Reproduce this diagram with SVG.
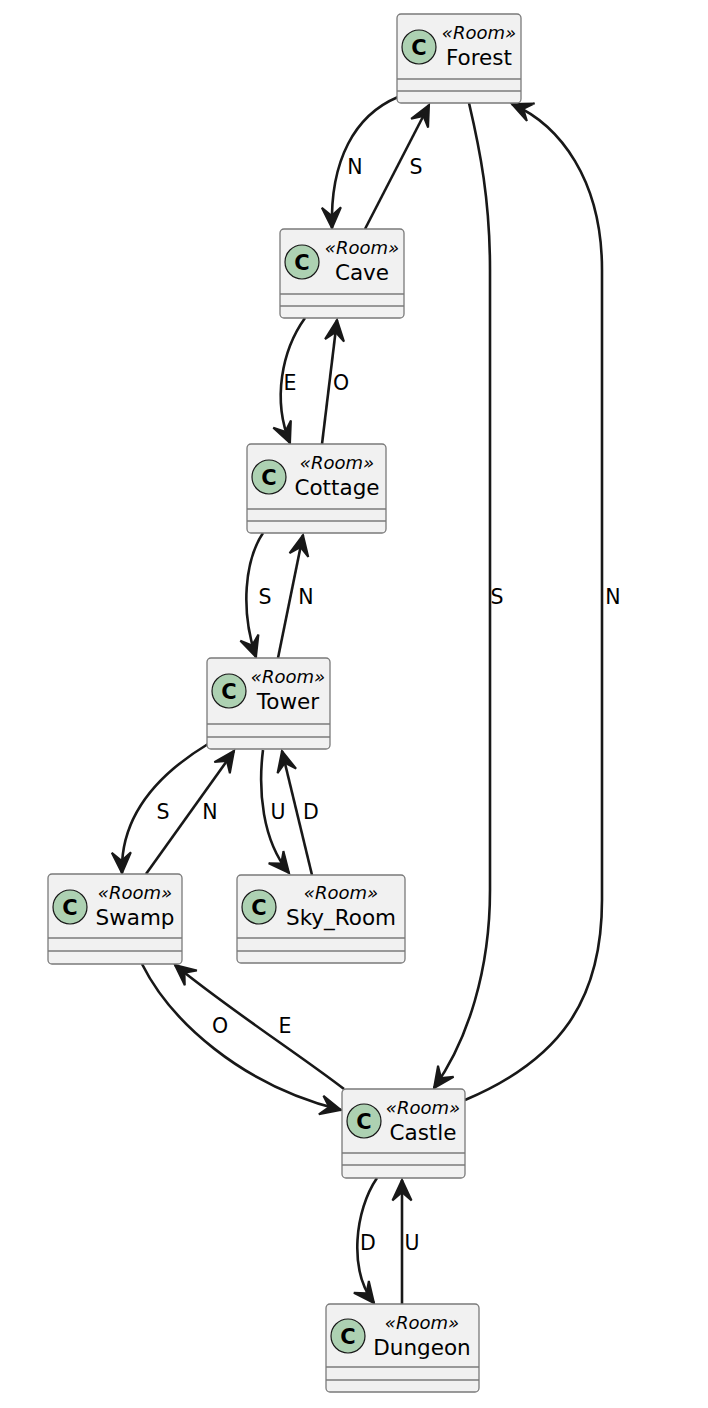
<svg xmlns="http://www.w3.org/2000/svg" width="708" height="1408" viewBox="0 0 708 1408">
<defs>
<style>
.box{fill:#F1F1F1;stroke:#7a7a7a;stroke-width:1.3}
.sep{stroke:#7a7a7a;stroke-width:1.3}
.circ{fill:#ADD1B2;stroke:#181818;stroke-width:1.2}
.cl{font-family:"DejaVu Sans",sans-serif;font-weight:bold;font-size:21px;fill:#000;text-anchor:middle}
.st{font-family:"DejaVu Sans",sans-serif;font-style:italic;font-size:18px;fill:#000;text-anchor:middle}
.nm{font-family:"DejaVu Sans",sans-serif;font-size:21.5px;fill:#000;text-anchor:middle}
.e{fill:none;stroke:#181818;stroke-width:2.6;marker-end:url(#ah)}
.lb{font-family:"DejaVu Sans",sans-serif;font-size:20.5px;fill:#000;text-anchor:middle}
</style>
<marker id="ah" markerUnits="userSpaceOnUse" markerWidth="30" markerHeight="30" refX="0" refY="0" viewBox="-20 -10 22 20" orient="auto" overflow="visible">
<path d="M0,0 L-15,-7 L-9,0 L-15,7 Z" fill="#181818" stroke="#181818" stroke-width="1.5" stroke-linejoin="miter"/>
</marker>
</defs>
<rect width="708" height="1408" fill="#ffffff"/>
<g id="connectors">
<path class="e" d="M398,97 C355,115 330,160 332,228"/>
<path class="e" d="M365,229 L429,105"/>
<path class="e" d="M305,318 C282,350 272,400 290,443"/>
<path class="e" d="M322,444 L337,320"/>
<path class="e" d="M263,533 C245,560 240,610 256,657"/>
<path class="e" d="M278,658 L303,535"/>
<path class="e" d="M208,744 C165,770 120,810 122,873"/>
<path class="e" d="M146,874 L234,751"/>
<path class="e" d="M263,750 C258,790 262,840 289,873"/>
<path class="e" d="M312,875 L282,751"/>
<path class="e" d="M142,964 C170,1020 240,1085 341,1110"/>
<path class="e" d="M344,1089 C300,1055 230,1010 175,965"/>
<path class="e" d="M469,103 C480,150 490,200 490,270 L490,890 C490,970 468,1040 434,1088"/>
<path class="e" d="M465,1100 C560,1060 602,1000 602,900 L602,270 C602,180 560,125 512,104"/>
<path class="e" d="M377,1178 C355,1210 348,1270 374,1303"/>
<path class="e" d="M402,1304 L402,1180"/>
<text class="lb" x="355" y="174">N</text>
<text class="lb" x="416" y="174">S</text>
<text class="lb" x="290" y="390">E</text>
<text class="lb" x="341" y="390">O</text>
<text class="lb" x="265" y="604">S</text>
<text class="lb" x="306" y="604">N</text>
<text class="lb" x="163" y="819">S</text>
<text class="lb" x="210" y="819">N</text>
<text class="lb" x="278" y="819">U</text>
<text class="lb" x="311" y="819">D</text>
<text class="lb" x="220" y="1033">O</text>
<text class="lb" x="285" y="1033">E</text>
<text class="lb" x="497" y="604">S</text>
<text class="lb" x="613" y="604">N</text>
<text class="lb" x="368" y="1250">D</text>
<text class="lb" x="412" y="1250">U</text>
</g>
<g id="Forest">
<rect class="box" x="397" y="14" width="124" height="89" rx="4"/>
<line class="sep" x1="397" y1="79" x2="521" y2="79"/>
<line class="sep" x1="397" y1="91" x2="521" y2="91"/>
<circle class="circ" cx="419" cy="47" r="17"/>
<text class="cl" x="419" y="54.5">C</text>
<text class="st" x="479" y="39">«Room»</text>
<text class="nm" x="479" y="65">Forest</text>
</g>
<g id="Cave">
<rect class="box" x="280" y="229" width="124" height="89" rx="4"/>
<line class="sep" x1="280" y1="294" x2="404" y2="294"/>
<line class="sep" x1="280" y1="306" x2="404" y2="306"/>
<circle class="circ" cx="302" cy="262" r="17"/>
<text class="cl" x="302" y="269.5">C</text>
<text class="st" x="362" y="254">«Room»</text>
<text class="nm" x="362" y="280">Cave</text>
</g>
<g id="Cottage">
<rect class="box" x="247" y="444" width="139" height="89" rx="4"/>
<line class="sep" x1="247" y1="509" x2="386" y2="509"/>
<line class="sep" x1="247" y1="521" x2="386" y2="521"/>
<circle class="circ" cx="269" cy="477" r="17"/>
<text class="cl" x="269" y="484.5">C</text>
<text class="st" x="337" y="469">«Room»</text>
<text class="nm" x="337" y="495">Cottage</text>
</g>
<g id="Tower">
<rect class="box" x="207" y="658" width="123" height="91" rx="4"/>
<line class="sep" x1="207" y1="724" x2="330" y2="724"/>
<line class="sep" x1="207" y1="737" x2="330" y2="737"/>
<circle class="circ" cx="229" cy="691" r="17"/>
<text class="cl" x="229" y="698.5">C</text>
<text class="st" x="288" y="683">«Room»</text>
<text class="nm" x="288" y="709">Tower</text>
</g>
<g id="Swamp">
<rect class="box" x="48" y="874" width="134" height="90" rx="4"/>
<line class="sep" x1="48" y1="938" x2="182" y2="938"/>
<line class="sep" x1="48" y1="951" x2="182" y2="951"/>
<circle class="circ" cx="70" cy="907" r="17"/>
<text class="cl" x="70" y="914.5">C</text>
<text class="st" x="135" y="899">«Room»</text>
<text class="nm" x="135" y="925">Swamp</text>
</g>
<g id="Sky_Room">
<rect class="box" x="237" y="875" width="168" height="88" rx="4"/>
<line class="sep" x1="237" y1="938" x2="405" y2="938"/>
<line class="sep" x1="237" y1="951" x2="405" y2="951"/>
<circle class="circ" cx="259" cy="907" r="17"/>
<text class="cl" x="259" y="914.5">C</text>
<text class="st" x="341" y="899">«Room»</text>
<text class="nm" x="341" y="925">Sky_Room</text>
</g>
<g id="Castle">
<rect class="box" x="342" y="1089" width="123" height="89" rx="4"/>
<line class="sep" x1="342" y1="1153" x2="465" y2="1153"/>
<line class="sep" x1="342" y1="1165" x2="465" y2="1165"/>
<circle class="circ" cx="364" cy="1121" r="17"/>
<text class="cl" x="364" y="1128.5">C</text>
<text class="st" x="423" y="1114">«Room»</text>
<text class="nm" x="423" y="1140">Castle</text>
</g>
<g id="Dungeon">
<rect class="box" x="326" y="1304" width="153" height="88" rx="4"/>
<line class="sep" x1="326" y1="1367" x2="479" y2="1367"/>
<line class="sep" x1="326" y1="1380" x2="479" y2="1380"/>
<circle class="circ" cx="348" cy="1336" r="17"/>
<text class="cl" x="348" y="1343.5">C</text>
<text class="st" x="422" y="1329">«Room»</text>
<text class="nm" x="422" y="1355">Dungeon</text>
</g>
</svg>
